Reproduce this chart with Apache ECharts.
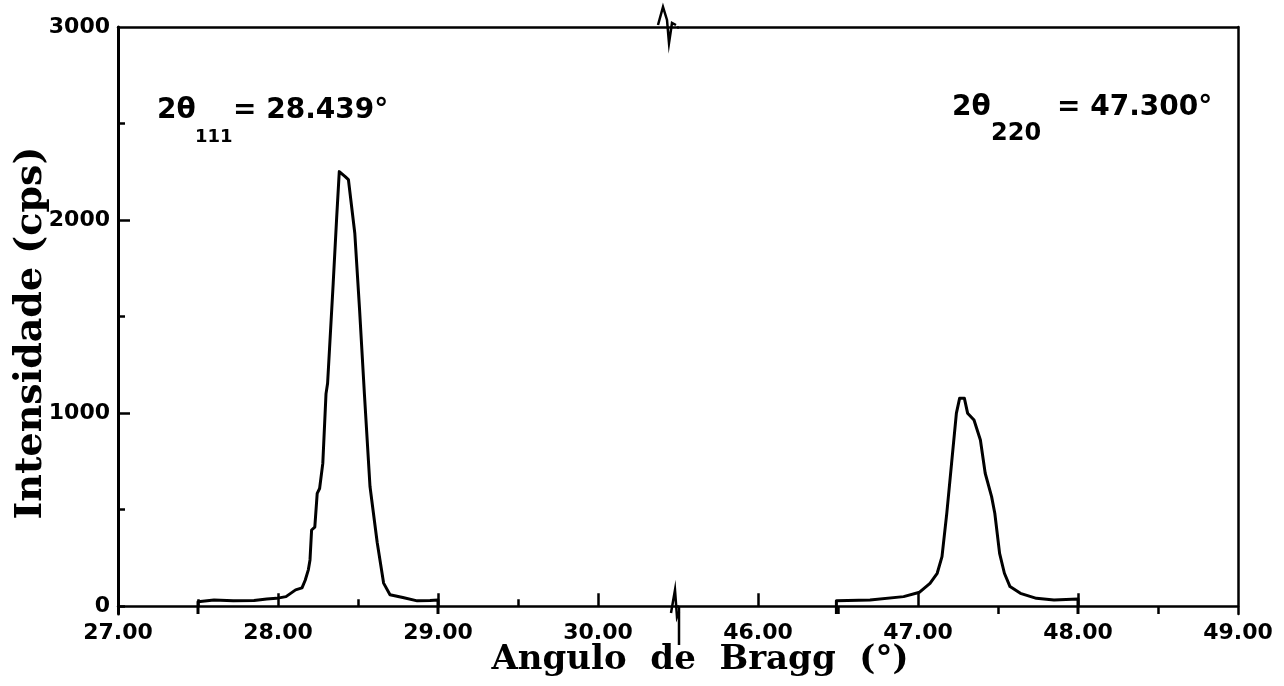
<!DOCTYPE html>
<html><head><meta charset="utf-8">
<script src="https://cdn.jsdelivr.net/npm/echarts@6/dist/echarts.min.js"></script>
<style>html,body{margin:0;padding:0;background:#fff}#c{width:1284px;height:686px}</style>
</head><body><div id="c"></div>
<script>
// ---- data ----
const leftX = [27.50, 27.50, 27.60, 27.72, 27.85, 27.93, 27.99, 28.05, 28.11, 28.15, 28.17, 28.19, 28.20, 28.21, 28.23, 28.245, 28.26, 28.28, 28.30, 28.31, 28.345, 28.367, 28.383, 28.42, 28.44, 28.48, 28.51, 28.54, 28.575, 28.62, 28.66, 28.70, 28.78, 28.87, 28.95, 29.00, 29.00];
const leftY = [-40, 24, 32, 28, 30, 38, 41, 50, 85, 95, 135, 190, 240, 395, 410, 585, 610, 740, 1100, 1155, 1673, 2018, 2251, 2225, 2210, 1932, 1534, 1100, 620, 330, 120, 60, 45, 28, 30, 33, -40];
const rightX = [46.49, 46.49, 46.70, 46.91, 47.01, 47.075, 47.12, 47.15, 47.18, 47.21, 47.24, 47.26, 47.29, 47.31, 47.35, 47.39, 47.42, 47.46, 47.48, 47.51, 47.54, 47.575, 47.64, 47.74, 47.85, 48.00, 48.00];
const rightY = [-40, 29, 33, 50, 73, 119, 171, 257, 482, 741, 1000, 1077, 1077, 1000, 965, 861, 689, 568, 482, 274, 171, 102, 67, 41, 33, 38, -40];
const yLabelValues = [0, 1000, 2000, 3000];
const yMajorTicks = [1000, 2000];
const yMinorValues = [0, 500, 1500, 2500];
const leftLabelValues = [27, 28, 29, 30];
const leftMajorTicks = [28, 29, 30];
const leftMinorTicks = [27.5, 28.5, 29.5];
const rightLabelValues = [46, 47, 48, 49];
const rightMajorTicks = [46, 47, 48];
const rightMinorTicks = [46.5, 47.5, 48.5];
const xTitle = 'Angulo  de  Bragg  (°)';
const yTitle = 'Intensidade (cps)';
const yMin = -40, yMax = 3000;

const chart = echarts.init(document.getElementById('c'), null, {renderer: 'canvas'});
const black = '#000';
const tickFont = {fontFamily: 'DejaVu Sans', fontWeight: 'bold', fontSize: 22, color: black};
function zip(a, b) { return a.map((v, i) => [v, b[i]]); }
function xAxes(grid, min, max, labels, major, minor) {
  return [
    {gridIndex: grid, type: 'value', min: min, max: max, position: 'bottom',
     axisLine: {lineStyle: {color: black, width: 2.5}},
     axisTick: {inside: true, length: 13, customValues: major, lineStyle: {color: black, width: 2.5}},
     axisLabel: Object.assign({customValues: labels, margin: 8, formatter: v => v.toFixed(2)}, tickFont),
     splitLine: {show: false}},
    {gridIndex: grid, type: 'value', min: min, max: max, position: 'bottom',
     axisLine: {show: false},
     axisTick: {inside: true, length: 7, customValues: minor, lineStyle: {color: black, width: 2.5}},
     axisLabel: {show: false}, splitLine: {show: false}},
    {gridIndex: grid, type: 'value', min: min, max: max, position: 'top',
     axisLine: {lineStyle: {color: black, width: 2.5}},
     axisTick: {show: false}, axisLabel: {show: false}, splitLine: {show: false}}
  ];
}
const option = {
  animation: false,
  backgroundColor: '#fff',
  textStyle: {fontFamily: 'DejaVu Sans'},
  grid: [
    {left: 118, top: 27, width: 560, height: 587},
    {left: 678, top: 27, width: 560, height: 587}
  ],
  xAxis: xAxes(0, 27, 30.5, leftLabelValues, leftMajorTicks, leftMinorTicks)
    .concat(xAxes(1, 45.5, 49, rightLabelValues, rightMajorTicks, rightMinorTicks)),
  yAxis: [
    {gridIndex: 0, type: 'value', min: yMin, max: yMax, position: 'left',
     axisLine: {show: true, lineStyle: {color: black, width: 3}},
     axisTick: {show: true, inside: true, length: 12, customValues: yMajorTicks, lineStyle: {color: black, width: 2.5}},
     axisLabel: Object.assign({customValues: yLabelValues, margin: 8, formatter: v => String(v)}, tickFont),
     splitLine: {show: false}},
    {gridIndex: 0, type: 'value', min: yMin, max: yMax, position: 'left',
     axisLine: {show: false},
     axisTick: {show: true, inside: true, length: 7, customValues: yMinorValues, lineStyle: {color: black, width: 2.5}},
     axisLabel: {show: false}, splitLine: {show: false}},
    {gridIndex: 1, type: 'value', min: yMin, max: yMax, position: 'right',
     axisLine: {show: true, lineStyle: {color: black, width: 2.5}},
     axisTick: {show: false}, axisLabel: {show: false}, splitLine: {show: false}}
  ],
  series: [
    {type: 'line', xAxisIndex: 0, yAxisIndex: 0, data: zip(leftX, leftY), showSymbol: false,
     lineStyle: {color: black, width: 3, join: 'round'}, silent: true},
    {type: 'line', xAxisIndex: 3, yAxisIndex: 2, data: zip(rightX, rightY), showSymbol: false,
     lineStyle: {color: black, width: 3, join: 'round'}, silent: true}
  ],
  graphic: [
    {type: 'text', x: 700, y: 660, style: {text: xTitle, font: 'bold 34px "DejaVu Serif"', fill: black, textAlign: 'center', textVerticalAlign: 'middle'}},
    {type: 'text', x: 31, y: 333, rotation: Math.PI / 2, style: {text: yTitle, font: 'bold 38px "DejaVu Serif"', fill: black, textAlign: 'center', textVerticalAlign: 'middle'}},
    {type: 'text', x: 157, y: 111, style: {text: '2θ', font: 'bold 28px "DejaVu Sans"', fill: black, textVerticalAlign: 'middle'}},
    {type: 'text', x: 195, y: 137, style: {text: '111', font: 'bold 18px "DejaVu Sans"', fill: black, textVerticalAlign: 'middle'}},
    {type: 'text', x: 233, y: 111, style: {text: '= 28.439°', font: 'bold 28px "DejaVu Sans"', fill: black, textVerticalAlign: 'middle'}},
    {type: 'text', x: 952, y: 108, style: {text: '2θ', font: 'bold 28px "DejaVu Sans"', fill: black, textVerticalAlign: 'middle'}},
    {type: 'text', x: 991, y: 134, style: {text: '220', font: 'bold 24px "DejaVu Sans"', fill: black, textVerticalAlign: 'middle'}},
    {type: 'text', x: 1057, y: 108, style: {text: '= 47.300°', font: 'bold 28px "DejaVu Sans"', fill: black, textVerticalAlign: 'middle'}},
    {type: 'polyline', shape: {points: [[658, 25], [663, 7], [667, 20], [669, 43], [672, 23], [676, 25]]}, style: {stroke: black, lineWidth: 2.5, fill: null}},
    {type: 'polyline', shape: {points: [[671, 613], [675, 590], [677, 617], [679, 612]]}, style: {stroke: black, lineWidth: 2.5, fill: null}},
    {type: 'line', shape: {x1: 679, y1: 606, x2: 679, y2: 645}, style: {stroke: black, lineWidth: 2.5}}
  ]
};
chart.setOption(option);
</script>
</body></html>
